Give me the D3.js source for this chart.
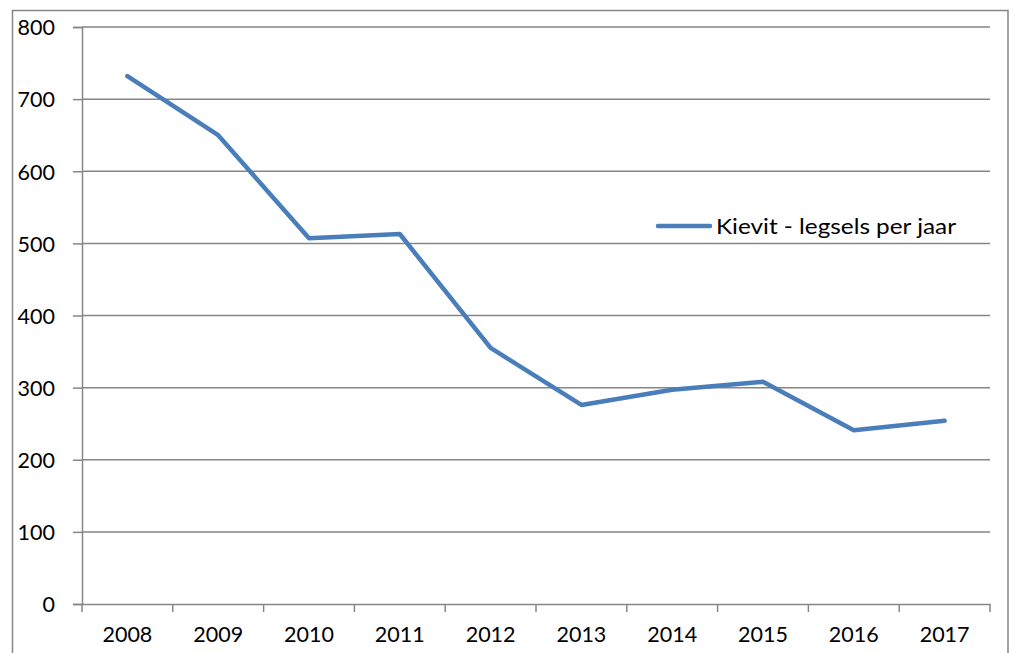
<!DOCTYPE html>
<html><head><meta charset="utf-8">
<script src="https://cdn.jsdelivr.net/npm/d3@7"></script>
<style>body{margin:0;background:#fff}svg{display:block}text{font-family:Lato,"Open Sans",sans-serif;fill:#000}</style>
</head><body>
<svg id="c" width="1013" height="653"></svg>
<script>
const years = ["2008","2009","2010","2011","2012","2013","2014","2015","2016","2017"];
const values = [732, 650, 507, 513, 355, 276, 297, 308, 241, 254];
const yTicks = [0,100,200,300,400,500,600,700,800];
const seriesName = "Kievit - legsels per jaar";

const svg = d3.select("#c");
const L=82, R=990, T=27, B=604;
const x = d3.scaleBand().domain(years).range([L,R]);
const y = d3.scaleLinear().domain([0,800]).range([B,T]);
const grid="#868686";

svg.append("rect").attr("x",12.5).attr("y",10.5).attr("width",995.5).attr("height",660)
  .attr("fill","none").attr("stroke",grid).attr("stroke-width",1.5);

svg.append("g").selectAll("line").data(yTicks.filter(d=>d>0)).join("line")
  .attr("x1",L).attr("x2",R).attr("y1",d=>y(d)).attr("y2",d=>y(d))
  .attr("stroke",grid).attr("stroke-width",1.5);

const ya = svg.append("g").attr("transform",`translate(${L},0)`)
  .call(d3.axisLeft(y).tickValues(yTicks).tickSize(9).tickPadding(18));
ya.select(".domain").attr("stroke",grid).attr("stroke-width",1.5);
ya.selectAll(".tick line").attr("stroke",grid).attr("stroke-width",1.5);
ya.selectAll("text").attr("font-size",21.5).attr("font-family","Lato,sans-serif").attr("dy","0.36em");

const xa = svg.append("g").attr("transform",`translate(0,${B})`)
  .call(d3.axisBottom(x).tickSize(0).tickPadding(23));
xa.select(".domain").attr("stroke",grid).attr("stroke-width",1.5);
xa.selectAll("text").attr("font-size",21.5).attr("font-family","Lato,sans-serif");
const edges = years.map(d=>x(d)).concat([R]);
svg.append("g").selectAll("line").data(edges).join("line")
  .attr("x1",d=>d).attr("x2",d=>d).attr("y1",B).attr("y2",B+8)
  .attr("stroke",grid).attr("stroke-width",1.5);

const line = d3.line().x((d,i)=>x(years[i])+x.bandwidth()/2).y(d=>y(d));
svg.append("path").datum(values).attr("d",line).attr("fill","none")
  .attr("stroke","#4a7ebb").attr("stroke-width",4.5).attr("stroke-linecap","round").attr("stroke-linejoin","round");

const lg = svg.append("g");
lg.append("line").attr("x1",658).attr("x2",710).attr("y1",226).attr("y2",226)
  .attr("stroke","#4a7ebb").attr("stroke-width",4.5).attr("stroke-linecap","round");
lg.append("text").attr("x",716).attr("y",226).attr("dy","0.36em").attr("font-size",22)
  .attr("textLength",240).attr("lengthAdjust","spacingAndGlyphs").text(seriesName);
</script>
</body></html>
